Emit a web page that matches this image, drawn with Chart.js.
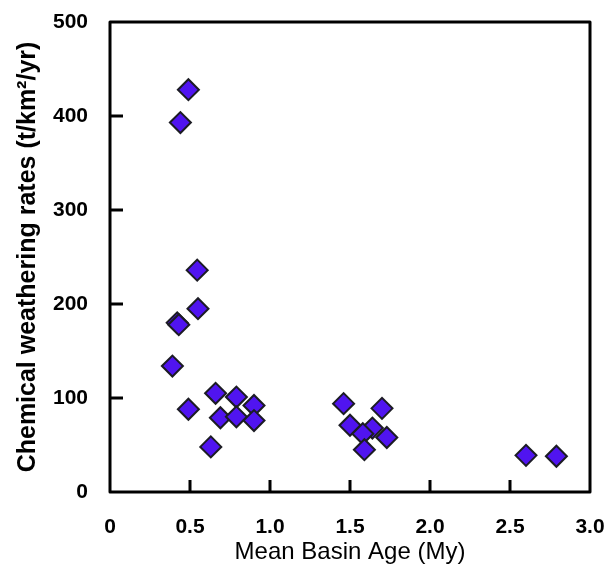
<!DOCTYPE html>
<html>
<head>
<meta charset="utf-8">
<script src="https://cdn.jsdelivr.net/npm/chart.js@4/dist/chart.umd.min.js"></script>
<style>
  html, body { margin: 0; padding: 0; background: #fff; }
  #wrap { width: 606px; height: 578px; }
</style>
</head>
<body>
<div id="wrap"><canvas id="weathering"></canvas></div>
<script>
// mean basin age (My) and chemical weathering rate (t/km2/yr)
const basinAge = [0.49, 0.44, 0.545, 0.55, 0.42, 0.43, 0.39, 0.49, 0.66, 0.63, 0.69, 0.79,
  0.79, 0.90, 0.90, 1.46, 1.50, 1.70, 1.64, 1.58, 1.73, 1.59, 2.60, 2.79];
const weatheringRate = [428, 393, 236, 195, 180, 178, 134, 88, 105, 48, 79, 101,
  80, 92, 76, 94, 71, 89, 68, 62, 58, 45, 39, 38];
const xTicks = [0, 0.5, 1.0, 1.5, 2.0, 2.5, 3.0];
const yTicks = [0, 100, 200, 300, 400, 500];

const points = basinAge.map((a, i) => ({ x: a, y: weatheringRate[i] }));

// box round the plot plus short ticks pointing inward
const frame = {
  id: 'frame',
  afterDraw(chart) {
    const { ctx, chartArea: a, scales } = chart;
    ctx.save();
    ctx.strokeStyle = '#000';
    ctx.lineWidth = 3;
    ctx.lineJoin = 'round';
    ctx.strokeRect(a.left, a.top, a.right - a.left, a.bottom - a.top);
    ctx.beginPath();
    xTicks.slice(1, -1).forEach(v => {
      const px = scales.x.getPixelForValue(v);
      ctx.moveTo(px, a.bottom);
      ctx.lineTo(px, a.bottom - 12);
    });
    yTicks.slice(1, -1).forEach(v => {
      const py = scales.y.getPixelForValue(v);
      ctx.moveTo(a.left, py);
      ctx.lineTo(a.left + 13, py);
    });
    ctx.stroke();
    ctx.restore();
  }
};

new Chart(document.getElementById('weathering'), {
  type: 'scatter',
  data: {
    datasets: [{
      data: points,
      pointStyle: 'rectRot',
      pointRadius: 10.5,
      pointBorderWidth: 2,
      backgroundColor: '#5014f0',
      borderColor: '#1c1c24'
    }]
  },
  options: {
    responsive: true,
    maintainAspectRatio: false,
    animation: false,
    layout: { padding: { top: 22, right: 16, left: 0, bottom: 0 } },
    plugins: { legend: { display: false }, tooltip: { enabled: false } },
    scales: {
      x: {
        type: 'linear',
        min: 0,
        max: 3,
        afterFit: s => { s.height = 86; s.paddingLeft = 0; s.paddingRight = 0; },
        afterBuildTicks: s => { s.ticks = xTicks.map(v => ({ value: v })); },
        grid: { display: false, drawTicks: false },
        border: { display: false },
        ticks: {
          padding: 23,
          color: '#000',
          font: { family: 'Liberation Sans', size: 21, weight: 'bold' },
          callback: v => v === 0 ? '0' : v.toFixed(1)
        },
        title: {
          display: true,
          text: 'Mean Basin Age (My)',
          color: '#000',
          padding: { top: 0, bottom: 11 },
          font: { family: 'Liberation Sans', size: 24 }
        }
      },
      y: {
        type: 'linear',
        min: 0,
        max: 500,
        afterFit: s => { s.width = 110; s.paddingTop = 0; s.paddingBottom = 0; },
        afterBuildTicks: s => { s.ticks = yTicks.map(v => ({ value: v })); },
        grid: { display: false, drawTicks: false },
        border: { display: false },
        ticks: {
          padding: 22,
          color: '#000',
          font: { family: 'Liberation Sans', size: 21, weight: 'bold' }
        },
        title: {
          display: true,
          text: 'Chemical weathering rates (t/km\u00B2/yr)',
          color: '#000',
          padding: { top: 13, bottom: 0 },
          font: { family: 'Liberation Sans', size: 25, weight: 'bold' }
        }
      }
    }
  },
  plugins: [frame]
});
</script>
</body>
</html>
